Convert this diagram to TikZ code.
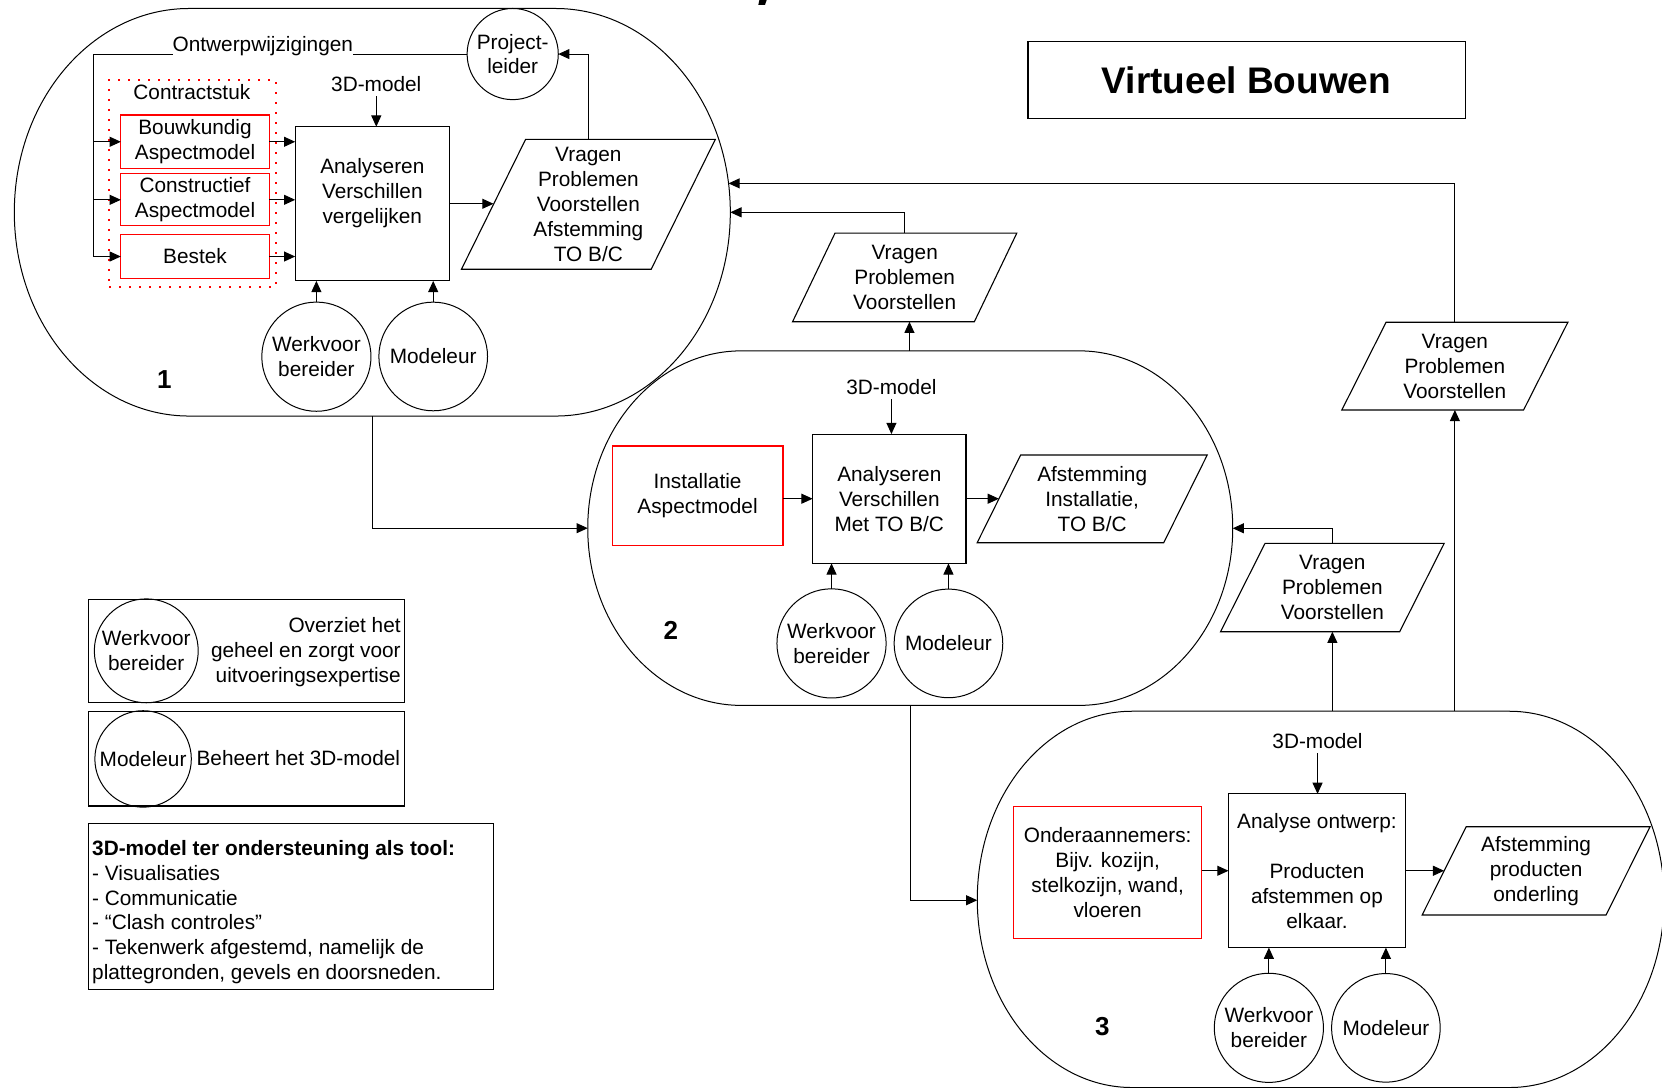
\documentclass[tikz,border=0pt]{standalone}
\usepackage{fontspec}
\setmainfont{Liberation Sans}
\usetikzlibrary{arrows.meta,calc}

% rounded "terminator" outline: left, top, right, bottom, corner x-radius
\newcommand\capsule[5]{%
  \draw[thinline] (#1+#5,#2) -- (#3-#5,#2)
    arc[start angle=-90, end angle=90, x radius=#5, y radius=(#4-#2)/2]
    -- (#1+#5,#4)
    arc[start angle=90, end angle=270, x radius=#5, y radius=(#4-#2)/2]
    -- cycle;}

% data parallelogram: name, centre x, centre y, side width, height, slant, text
\newcommand\slanted[7]{%
  \node[align=center, wh={#4}{#5}] (#1) at (#2,#3) {#7};
  \draw[boxline] ($(#1.north west)+(#6/2,0)$) -- ($(#1.north east)+(#6/2,0)$)
    -- ($(#1.south east)-(#6/2,0)$) -- ($(#1.south west)-(#6/2,0)$) -- cycle;}

\begin{document}
\begin{tikzpicture}[x=0.53pt, y=-0.53pt,
  every node/.style={font=\fontsize{10.4}{12.45}\selectfont, inner sep=0pt, outer sep=0pt},
  thinline/.style={line width=0.5pt, draw=black},
  boxline/.style={line width=0.55pt, draw=black},
  arr/.style={line width=0.5pt, -{Triangle[length=5.6pt,width=5pt]}},
  wh/.style 2 args={minimum width=#1*0.53pt, minimum height=#2*0.53pt},
  procbox/.style={draw, line width=0.55pt, align=center, rectangle},
  redbox/.style={draw=red, line width=0.55pt, align=center, rectangle},
  role/.style={draw, circle, line width=0.5pt, align=center, minimum size=#1*0.53pt},
  modeltag/.style={inner sep=2.5pt},
  phase/.style={font=\fontsize{13}{15}\selectfont\bfseries},
  dotframe/.style={draw=red, line width=1pt, dash pattern=on 1pt off 4pt}
]
\useasboundingbox (0,0) rectangle (1568,1026);

% cut-off glyph at the upper edge
\fill (716.4,0) -- (723.3,0) -- (721.7,4.7) -- (715.4,4.7) -- cycle;

% ---------- phase outlines ----------
\capsule{13.5}{8}{689}{392.5}{165}
\capsule{554.5}{331}{1163}{665.5}{145}
\capsule{922}{671}{1570}{1026}{146}

\coordinate (o1s)  at (351.6,392.5);
\coordinate (o1e1) at (687.3,173);
\coordinate (o1e2) at (689,200.3);
\coordinate (o2w)  at (554.5,498.3);
\coordinate (o2e)  at (1163,498.4);
\coordinate (o2n)  at (858,331);
\coordinate (o2s)  at (858.8,665.5);
\coordinate (o3w)  at (922,849.3);
\coordinate (o3n1) at (1257,671);
\coordinate (o3n2) at (1372.6,671);

% ---------- title ----------
\node[draw, line width=0.6pt, wh={412.5}{72.3},
      font=\fontsize{18.5}{22}\selectfont\bfseries] (title) at (1176,75.5) {Virtueel Bouwen};

% ---------- phase 1 ----------
\node[dotframe, wh={157}{196}] (contract) at (181.5,173) {};
\node (ctxt) at (181,87) {Contractstuk};
\node[redbox, wh={140}{50.5}] (bouw) at (184,133.75) {Bouwkundig\\Aspectmodel};
\node[redbox, wh={140}{49}] (constr) at (184,188.5) {Constructief\\Aspectmodel};
\node[redbox, wh={140}{42}] (bestek) at (184,242) {Bestek};
\node[procbox, wh={145.5}{145.5}] (an1) at (351.25,192.25) {Analyseren\\Verschillen\\vergelijken\\[-3.2pt]\strut};
\node[modeltag] (t3d1) at (355,79) {3D-model};
\node[role=86] (pl) at (483.7,51) {Project-\\leider};
\node[role=103] (w1) at (298.5,336.5) {Werkvoor\\bereider};
\node[role=102.5] (m1) at (408.7,336.3) {Modeleur};
\slanted{v1}{555.1}{192.75}{179}{122.5}{60.5}{Vragen\\Problemen\\Voorstellen\\Afstemming\\TO B/C}
\node[phase] (n1) at (155,358) {1};

\coordinate (trunk) at (88,51);
\draw[thinline] (pl.west) -- (trunk) -- (trunk |- bestek.west);
\node[fill=white, inner ysep=1pt, anchor=base] (ow) at (248,48.5) {Ontwerpwijzigingen};
\draw[arr] (trunk |- bouw.west) -- (bouw.west);
\draw[arr] (trunk |- constr.west) -- (constr.west);
\draw[arr] (trunk |- bestek.west) -- (bestek.west);
\draw[arr] (bouw.east) -- (bouw.east -| an1.west);
\draw[arr] (constr.east) -- (constr.east -| an1.west);
\draw[arr] (bestek.east) -- (bestek.east -| an1.west);
\draw[arr] (t3d1.south) -- (t3d1.south |- an1.north);
\draw[arr] (an1.east) -- (an1.east -| v1.west);
\draw[arr] (v1.north) |- (pl.east);
\draw[arr] (w1.north) -- (w1.north |- an1.south);
\draw[arr] (m1.north) -- (m1.north |- an1.south);

% ---------- phase 2 ----------
\node[redbox, wh={161.2}{94.2}] (inst) at (658.1,467.9) {Installatie\\Aspectmodel};
\node[procbox, wh={144.7}{122}] (an2) at (839,470.5) {Analyseren\\Verschillen\\Met TO B/C};
\node[modeltag] (t3d2) at (841,364.8) {3D-model};
\slanted{a2}{1030.4}{470.65}{176}{82.7}{41}{Afstemming\\Installatie,\\TO B/C}
\node[role=103] (w2) at (784.5,607) {Werkvoor\\bereider};
\node[role=102.5] (m2) at (894.8,607) {Modeleur};
\node[phase] (n2) at (632.8,594.4) {2};

\draw[arr] (an2.west -| inst.east) -- (an2.west);
\draw[arr] (t3d2.south) -- (t3d2.south |- an2.north);
\draw[arr] (an2.east) -- (an2.east -| a2.west);
\draw[arr] (w2.north) -- (w2.north |- an2.south);
\draw[arr] (m2.north) -- (m2.north |- an2.south);

% ---------- phase 3 ----------
\node[redbox, wh={177.5}{125}] (onder) at (1045,823) {Onderaannemers:\\Bijv. kozijn,\\stelkozijn, wand,\\vloeren};
\node[procbox, wh={167}{145}] (an3) at (1242.5,821.5) {Analyse ontwerp:\\\strut\\Producten\\afstemmen op\\elkaar.};
\node[modeltag] (t3d3) at (1243,698.7) {3D-model};
\slanted{a3}{1449.2}{821.6}{173.5}{83.2}{41.5}{Afstemming\\producten\\onderling}
\node[role=103] (w3) at (1197.1,969.7) {Werkvoor\\bereider};
\node[role=102.5] (m3) at (1307.5,969.7) {Modeleur};
\node[phase] (n3) at (1040,968.6) {3};

\draw[arr] (an3.west -| onder.east) -- (an3.west);
\draw[arr] (t3d3.south) -- (t3d3.south |- an3.north);
\draw[arr] (an3.east) -- (an3.east -| a3.west);
\draw[arr] (w3.north) -- (w3.north |- an3.south);
\draw[arr] (m3.north) -- (m3.north |- an3.south);

% ---------- feedback between phases ----------
\slanted{v2}{853.5}{261.75}{171.5}{83.5}{40}{Vragen\\Problemen\\Voorstellen}
\slanted{v3}{1372.55}{345.4}{171.5}{82.8}{41.8}{Vragen\\Problemen\\Voorstellen}
\slanted{v4}{1257}{554.3}{169}{83.4}{42}{Vragen\\Problemen\\Voorstellen}

\draw[arr] (o1s) |- (o2w);
\draw[arr] (o2s) |- (o3w);
\draw[arr] (o2n) -- (o2n |- v2.south);
\draw[arr] (v2.north) |- (o1e2);
\draw[arr] (o3n1) -- (o3n1 |- v4.south);
\draw[arr] (v4.north) |- (o2e);
\draw[arr] (o3n2) -- (o3n2 |- v3.south);
\draw[arr] (v3.north) |- (o1e1);

% ---------- legend ----------
\node[draw, line width=0.55pt, wh={298.7}{97.6}] (leg1) at (232.65,614.2) {};
\node[role=98] (lc1) at (138,614) {Werkvoor\\bereider};
\node[align=right, anchor=east] (lt1) at (378,615) {Overziet het\\geheel en zorgt voor\\uitvoeringsexpertise};

\node[draw, line width=0.55pt, wh={298.7}{89}] (leg2) at (232.65,715.9) {};
\node[role=91] (lc2) at (135,716) {Modeleur};
\node[anchor=west] (lt2) at (185.5,715) {Beheert het 3D-model};

\node[draw, line width=0.55pt, wh={382.1}{156.6}] (leg3) at (274.35,855) {};
\node[align=left, anchor=west] (lt3) at (87,860.5) {\textbf{3D-model ter ondersteuning als tool:}\\- Visualisaties\\- Communicatie\\- “Clash controles”\\- Tekenwerk afgestemd, namelijk de\\plattegronden, gevels en doorsneden.};
\end{tikzpicture}
\end{document}
